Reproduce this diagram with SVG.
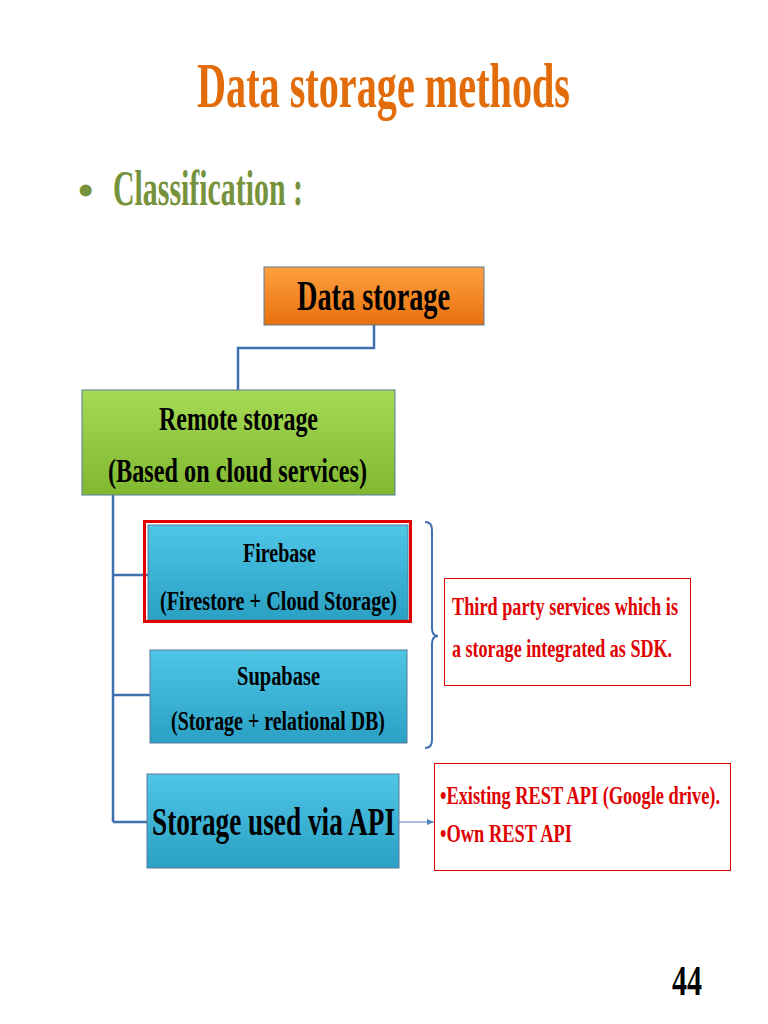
<svg xmlns="http://www.w3.org/2000/svg" width="768" height="1024" viewBox="0 0 768 1024">
<defs>
<linearGradient id="go" x1="0" y1="0" x2="0" y2="1"><stop offset="0" stop-color="#FFA040"/><stop offset="1" stop-color="#E8700E"/></linearGradient>
<linearGradient id="gg" x1="0" y1="0" x2="0" y2="1"><stop offset="0" stop-color="#A6DA55"/><stop offset="1" stop-color="#80B830"/></linearGradient>
<linearGradient id="gb" x1="0" y1="0" x2="0" y2="1"><stop offset="0" stop-color="#4FC6E6"/><stop offset="1" stop-color="#2AA0C4"/></linearGradient>
<marker id="ar" markerWidth="8" markerHeight="8" refX="7" refY="4" orient="auto" markerUnits="userSpaceOnUse"><path d="M0,1 L7,4 L0,7 z" fill="#4F81BD"/></marker>
</defs>
<style>
text{font-family:"Liberation Serif",serif;font-weight:bold}
.n{stroke:#5a7a9a;stroke-width:1}
.c{fill:none;stroke:#3F6FAF;stroke-width:2.5}
.r{fill:#fff;stroke:#E00000;stroke-width:1}
.rt{fill:#E00000;font-size:26px}
</style>
<rect width="768" height="1024" fill="#fff"/>
<text x="197" y="107" font-size="64" fill="#E36C0A" textLength="373" lengthAdjust="spacingAndGlyphs">Data storage methods</text>
<text x="78" y="205" font-size="44" fill="#76923C">•</text>
<text x="113" y="205" font-size="50" fill="#76923C" textLength="190" lengthAdjust="spacingAndGlyphs">Classification :</text>
<g id="connectors">
<path class="c" d="M374,325 V348 H238 V390"/>
<path class="c" d="M113,495 V822 M113,575 H148 M113,695 H150 M113,822 H147"/>
<path fill="none" stroke="#3F6FAF" stroke-width="2" d="M425,522 Q432,522 432,530 V628 Q432,636 438,636 Q432,636 432,644 V740 Q432,748 425,748"/>
<path fill="none" stroke="#4F81BD" stroke-width="1.2" marker-end="url(#ar)" d="M399,822 H434"/>
</g>
<g id="n-data"><rect class="n" x="264" y="267" width="220" height="58" fill="url(#go)"/>
<text x="297" y="310" font-size="42" textLength="153" lengthAdjust="spacingAndGlyphs">Data storage</text></g>
<g id="n-remote"><rect class="n" x="82" y="390" width="313" height="105" fill="url(#gg)"/>
<text x="159" y="430" font-size="34" textLength="159" lengthAdjust="spacingAndGlyphs">Remote storage</text>
<text x="108" y="482" font-size="34" textLength="259" lengthAdjust="spacingAndGlyphs">(Based on cloud services)</text></g>
<g id="n-firebase"><rect class="n" x="148" y="525" width="260" height="95" fill="url(#gb)"/>
<rect x="144.5" y="521.5" width="266" height="100" fill="none" stroke="#E00000" stroke-width="3"/>
<text x="243" y="562" font-size="28" textLength="73" lengthAdjust="spacingAndGlyphs">Firebase</text>
<text x="160" y="610" font-size="28" textLength="237" lengthAdjust="spacingAndGlyphs">(Firestore + Cloud Storage)</text></g>
<g id="n-supabase"><rect class="n" x="150" y="650" width="257" height="93" fill="url(#gb)"/>
<text x="237" y="685" font-size="28" textLength="83" lengthAdjust="spacingAndGlyphs">Supabase</text>
<text x="171" y="730" font-size="28" textLength="214" lengthAdjust="spacingAndGlyphs">(Storage + relational DB)</text></g>
<g id="n-api"><rect class="n" x="147" y="774" width="252" height="94" fill="url(#gb)"/>
<text x="152" y="835" font-size="40" textLength="243" lengthAdjust="spacingAndGlyphs">Storage used via API</text></g>
<g id="n-third"><rect class="r" x="444.5" y="578.5" width="246" height="107"/>
<text class="rt" x="452" y="615" textLength="226" lengthAdjust="spacingAndGlyphs">Third party services which is</text>
<text class="rt" x="452" y="657" textLength="220" lengthAdjust="spacingAndGlyphs">a storage integrated as SDK.</text></g>
<g id="n-rest"><rect class="r" x="434.5" y="763.5" width="296" height="107"/>
<text class="rt" x="440" y="804" textLength="280" lengthAdjust="spacingAndGlyphs">•Existing REST API (Google drive).</text>
<text class="rt" x="440" y="842" textLength="132" lengthAdjust="spacingAndGlyphs">•Own REST API</text></g>
<text x="672" y="995" font-size="42" fill="#000" textLength="30" lengthAdjust="spacingAndGlyphs">44</text>
</svg>
